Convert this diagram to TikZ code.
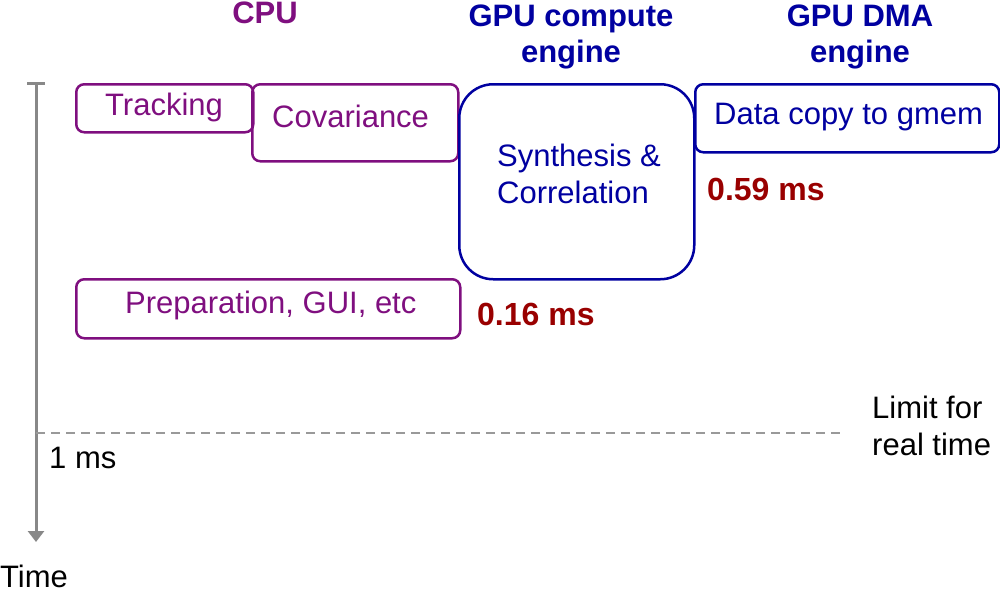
\documentclass[tikz,border=0pt]{standalone}
\usepackage{fontspec}
\setmainfont{Liberation Sans}
\usetikzlibrary{arrows.meta}
\definecolor{cpupurple}{HTML}{7F0F7F}
\definecolor{gpublue}{HTML}{0000A0}
\definecolor{msred}{HTML}{990000}
\definecolor{axisgray}{HTML}{888888}
\definecolor{dashgray}{HTML}{999999}
\tikzset{
  cpubox/.style={draw=cpupurple, line width=2.5pt, rounded corners=8pt, anchor=north west, inner sep=0pt},
  gpubox/.style={draw=gpublue, line width=2.5pt, rounded corners=8pt, anchor=north west, inner sep=0pt},
  txt/.style={font=\fontsize{31}{37}\selectfont, inner sep=0pt, anchor=base west, align=left},
  head/.style={font=\fontsize{31}{36}\selectfont\bfseries, inner sep=0pt, anchor=base, align=center},
  mslabel/.style={text=msred, font=\fontsize{32}{36}\selectfont\bfseries, inner sep=0pt, anchor=base west},
  axis/.style={draw=axisgray, line width=3pt},
}
\begin{document}
\begin{tikzpicture}[x=1pt,y=-1pt]
\useasboundingbox (0,0) rectangle (1000,590);
% headings
\node[head, text=cpupurple] (hcpu) at (265,23) {CPU};
\node[head, text=gpublue] (hgpu1) at (571,26) {GPU compute};
\node[head, text=gpublue] (hgpu2) at (571,62) {engine};
\node[head, text=gpublue] (hdma1) at (860,26) {GPU DMA};
\node[head, text=gpublue] (hdma2) at (860,62) {engine};
% time axis
\coordinate (ttop) at (36,83);
\coordinate (tbot) at (36,542);
\coordinate (tickl) at (27,83);
\coordinate (tickr) at (45,83);
\draw[axis, -{Triangle[width=16pt,length=11pt]}] (ttop) -- (tbot);
\draw[axis] (tickl) -- (tickr);
\node[txt] (time) at (0,587) {Time};
% limit line
\coordinate (dl) at (36,433);
\coordinate (dr) at (845,433);
\draw[dashgray, line width=2pt, dash pattern=on 9pt off 6pt] (dl) -- (dr);
\node[txt] (onems) at (49,468) {1 ms};
\node[txt] (limit1) at (872,418) {Limit for};
\node[txt] (limit2) at (872,455) {real time};
% boxes
\node[cpubox, minimum width=177pt, minimum height=48pt] (track) at (75,83) {};
\node[cpubox, minimum width=206pt, minimum height=77pt] (cov) at (251,83) {};
\node[cpubox, minimum width=384pt, minimum height=59pt] (prep) at (75,278) {};
\node[gpubox, rounded corners=34pt, minimum width=235pt, minimum height=195pt] (synth) at (458,83) {};
\node[gpubox, minimum width=304pt, minimum height=68pt] (dma) at (694,83) {};
% box texts
\node[txt, text=cpupurple] (ttrack) at (105,115) {Tracking};
\node[txt, text=cpupurple] (tcov) at (272,127) {Covariance};
\node[txt, text=cpupurple] (tprep) at (125,313) {Preparation, GUI, etc};
\node[txt, text=gpublue] (tsyn1) at (497,166) {Synthesis \&};
\node[txt, text=gpublue] (tsyn2) at (497,203) {Correlation};
\node[txt, text=gpublue] (tdma) at (714,124) {Data copy to gmem};
% times
\node[mslabel] (t16) at (477,325) {0.16 ms};
\node[mslabel] (t59) at (707,200) {0.59 ms};
\end{tikzpicture}
\end{document}
